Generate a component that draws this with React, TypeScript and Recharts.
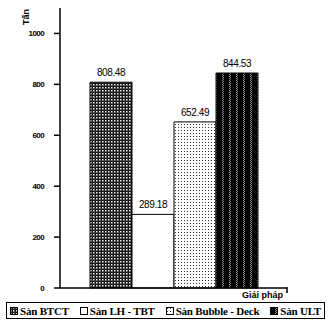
import { BarChart, Bar, XAxis, YAxis, Legend, LabelList } from "recharts";

const categories = ["Giải pháp"];
const seriesNames = ["Sàn BTCT", "Sàn LH - TBT", "Sàn Bubble - Deck", "Sàn ULT"];
const seriesValues = [808.48, 289.18, 652.49, 844.53];
const yTicks = [0, 200, 400, 600, 800, 1000];

const fills = ["url(#pBtct)", "#ffffff", "url(#pBubble)", "url(#pUlt)"];

const data = categories.map((name) => {
  const row: Record<string, string | number> = { name };
  seriesNames.forEach((s, i) => {
    row[s] = seriesValues[i];
  });
  return row;
});

const sans = "Arial, 'Liberation Sans', sans-serif";
const serif = "'Liberation Serif', 'Times New Roman', serif";

function LegendBox() {
  return (
    <div
      style={{
        marginLeft: 6,
        marginTop: 4,
        width: 319,
        height: 17,
        border: "1.5px solid #000",
        display: "flex",
        alignItems: "center",
        justifyContent: "space-between",
        padding: "0 3px",
        boxSizing: "border-box",
        fontFamily: serif,
        fontWeight: "bold",
        fontSize: 11,
        whiteSpace: "nowrap",
        letterSpacing: -0.2,
      }}
    >
      {seriesNames.map((s, i) => (
        <span key={s} style={{ display: "flex", alignItems: "center" }}>
          <svg width={8} height={8} style={{ marginRight: 2 }}>
            <rect x={0.5} y={0.5} width={7} height={7} fill={fills[i]} stroke="#000" />
          </svg>
          {s}
        </span>
      ))}
    </div>
  );
}

// axis title sits under the right end of the x axis, with a small end tick
function XTitle(props: any) {
  const { viewBox } = props;
  const xEnd = viewBox.x + viewBox.width;
  const y = viewBox.y;
  return (
    <g>
      <line x1={xEnd} y1={y - 1} x2={xEnd} y2={y + 5} stroke="#000" strokeWidth={1.5} />
      <text x={xEnd - 4} y={y + 10} textAnchor="end" fontFamily={sans} fontWeight="bold" fontSize={9} fill="#000">
        Giải pháp
      </text>
    </g>
  );
}

export default function App() {
  return (
    <div style={{ position: "absolute", left: 0, top: 0, width: 331, height: 328, background: "#fff" }}>
      <BarChart
        width={331}
        height={328}
        data={data}
        margin={{ top: 8, right: 44, left: 0, bottom: 0 }}
        barGap={0}
        barSize={42}
      >
        <defs>
          <pattern id="pBtct" width="3" height="3" patternUnits="userSpaceOnUse">
            <rect width="3" height="3" fill="#000" />
            <rect x="0" y="0" width="1.5" height="1.5" fill="#fff" />
            <rect x="1.5" y="1.5" width="1" height="1" fill="#999" />
          </pattern>
          <pattern id="pBubble" width="3" height="3" patternUnits="userSpaceOnUse">
            <rect width="3" height="3" fill="#fff" />
            <rect x="1" y="1" width="1" height="1" fill="#333" />
          </pattern>
          <pattern id="pUlt" width="7" height="4" patternUnits="userSpaceOnUse" x="1">
            <rect width="7" height="4" fill="#000" />
            <rect x="4" y="0" width="1" height="1" fill="#999" />
            <rect x="5" y="1" width="1" height="1" fill="#888" />
            <rect x="4" y="2" width="1" height="1" fill="#999" />
            <rect x="5" y="3" width="1" height="1" fill="#888" />
          </pattern>
        </defs>
        <XAxis
          dataKey="name"
          tick={false}
          tickLine={false}
          height={10}
          axisLine={{ stroke: "#000", strokeWidth: 1.5 }}
          label={<XTitle />}
        />
        <YAxis
          width={60}
          domain={[0, 1100]}
          ticks={yTicks}
          tickSize={6}
          tickMargin={10}
          axisLine={{ stroke: "#000", strokeWidth: 1.5 }}
          tickLine={{ stroke: "#000", strokeWidth: 1.5 }}
          tick={{ fill: "#000", fontSize: 8, fontWeight: "bold", fontFamily: sans, letterSpacing: -0.6 }}
          label={{
            value: "Tấn",
            angle: -90,
            position: "insideTopLeft",
            dx: 18,
            dy: 12,
            fontFamily: sans,
            fontWeight: "bold",
            fontSize: 9,
            fill: "#000",
          }}
        />
        <Legend verticalAlign="bottom" height={30} wrapperStyle={{ left: 0, width: 331 }} content={() => <LegendBox />} />
        {seriesNames.map((s, i) => (
          <Bar key={s} dataKey={s} fill={fills[i]} stroke="#000" strokeWidth={1} isAnimationActive={false}>
            <LabelList
              dataKey={s}
              position="top"
              offset={6}
              formatter={(v: number) => v.toFixed(2)}
              style={{ fill: "#000", fontSize: 10, fontFamily: sans, letterSpacing: -0.4 }}
            />
          </Bar>
        ))}
      </BarChart>
    </div>
  );
}
